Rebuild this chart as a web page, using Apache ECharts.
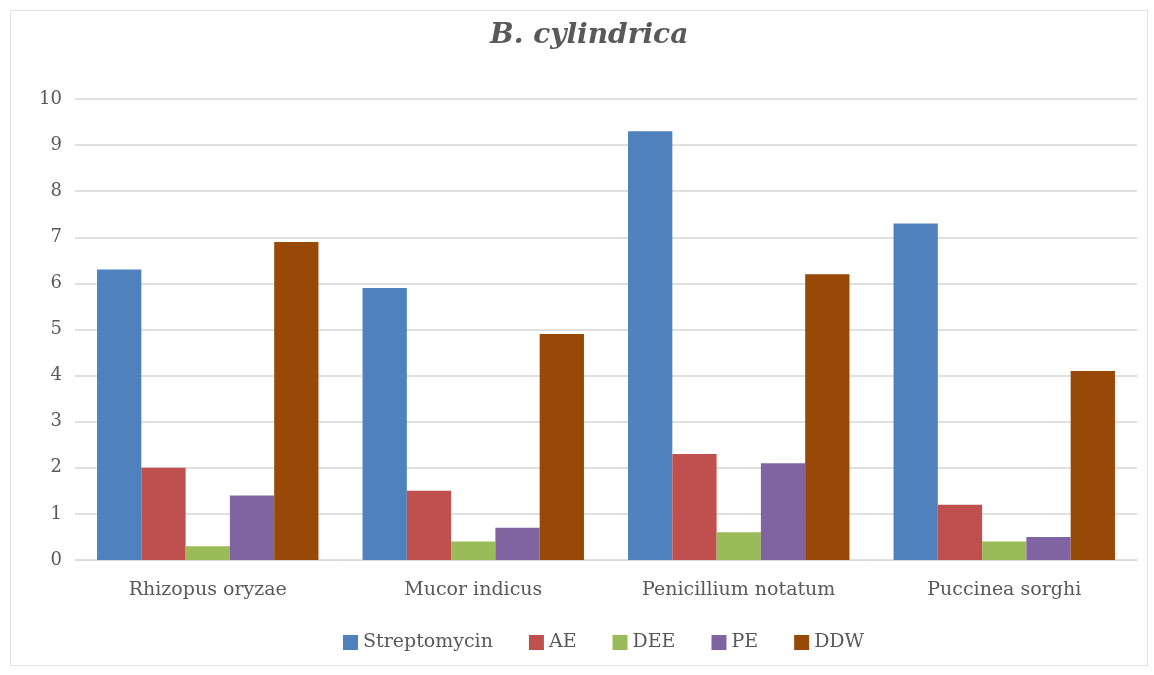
<!DOCTYPE html>
<html>
<head>
<meta charset="utf-8">
<script src="https://cdn.jsdelivr.net/npm/echarts@6/dist/echarts.min.js"></script>
<style>
  html, body { margin: 0; padding: 0; background: #ffffff; }
  #frame { position: absolute; left: 10px; top: 10px; width: 1138px; height: 656px;
           border: 1px solid #e3e3e3; box-sizing: border-box; background: #ffffff; }
  #chart { position: absolute; left: 0; top: 0; width: 1154px; height: 675px; }
</style>
</head>
<body>
<div id="frame"></div>
<div id="chart"></div>
<script>
// Antifungal activity for B. cylindrica extracts
const categories = ['Rhizopus oryzae', 'Mucor indicus', 'Penicillium notatum', 'Puccinea sorghi'];
const streptomycin = [6.3, 5.9, 9.3, 7.3];
const ae = [2.0, 1.5, 2.3, 1.2];
const dee = [0.3, 0.4, 0.6, 0.4];
const pe = [1.4, 0.7, 2.1, 0.5];
const ddw = [6.9, 4.9, 6.2, 4.1];
const seriesNames = ['Streptomycin', 'AE', 'DEE', 'PE', 'DDW'];
const seriesValues = [streptomycin, ae, dee, pe, ddw];
const colors = ['#4F81BD', '#C0504D', '#9BBB59', '#8064A2', '#984807'];

const textFont = 'DejaVu Serif';
const chart = echarts.init(document.getElementById('chart'));
chart.setOption({
  animation: false,
  color: colors,
  title: {
    text: 'B. cylindrica',
    left: 485,
    top: 17,
    textStyle: { fontFamily: 'DejaVu Serif', fontStyle: 'italic', fontWeight: 'bold', fontSize: 28, color: '#595959' }
  },
  legend: {
    bottom: 18,
    left: 338,
    itemWidth: 15,
    itemHeight: 15,
    itemGap: 36,
    icon: 'rect',
    textStyle: { fontFamily: textFont, fontSize: 19, color: '#595959' },
    data: seriesNames
  },
  grid: { left: 75, right: 17, top: 99, bottom: 115, containLabel: false },
  xAxis: {
    type: 'category',
    data: categories,
    axisLine: { lineStyle: { color: '#d9d9d9' } },
    axisTick: { show: false },
    axisLabel: { fontFamily: textFont, fontSize: 19, color: '#595959', margin: 21 }
  },
  yAxis: {
    type: 'value',
    min: 0,
    max: 10,
    interval: 1,
    axisLine: { show: false },
    axisTick: { show: false },
    axisLabel: { fontFamily: textFont, fontSize: 18, color: '#595959', margin: 13 },
    splitLine: { lineStyle: { color: '#e0e0e0', width: 2 } }
  },
  series: seriesNames.map((name, i) => ({
    name: name,
    type: 'bar',
    data: seriesValues[i],
    barGap: '0%',
    barCategoryGap: '16.6%'
  }))
});
</script>
</body>
</html>
